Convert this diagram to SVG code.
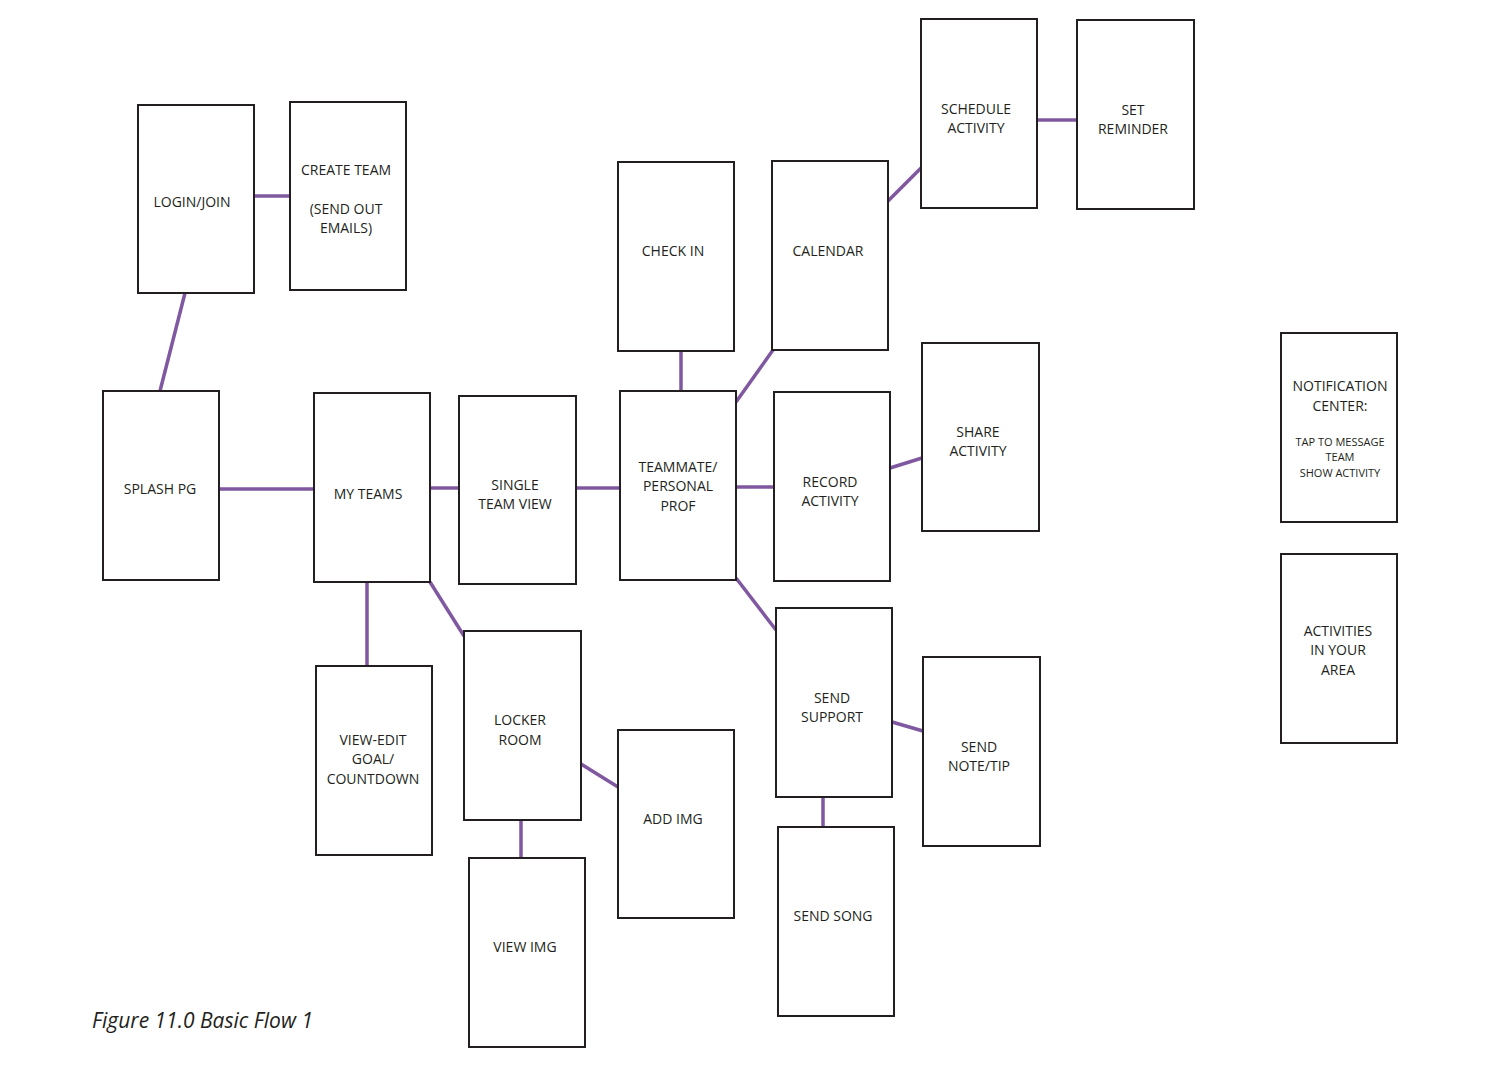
<svg xmlns="http://www.w3.org/2000/svg" width="1498" height="1067" viewBox="0 0 1498 1067">
<style>
.b{fill:#fff;stroke:#231f20;stroke-width:2}
.t{font-family:"Open Sans","Liberation Sans",sans-serif;font-size:14px;fill:#231f20;text-anchor:middle}
.s{font-size:11px}
.c line{stroke:#7f58a0;stroke-width:3.5}
</style>
<rect width="1498" height="1067" fill="#fff"/>
<g class="c" id="connectors">
<line x1="254" y1="196" x2="290" y2="196"/>
<line x1="185" y1="293" x2="160" y2="391"/>
<line x1="219" y1="489" x2="314" y2="489"/>
<line x1="430" y1="488" x2="459" y2="488"/>
<line x1="576" y1="488" x2="620" y2="488"/>
<line x1="681" y1="351" x2="681" y2="391"/>
<line x1="736" y1="402" x2="773" y2="350"/>
<line x1="888" y1="201" x2="921" y2="168"/>
<line x1="1037" y1="120" x2="1077" y2="120"/>
<line x1="736" y1="487" x2="774" y2="487"/>
<line x1="890" y1="468" x2="922" y2="458"/>
<line x1="736" y1="578" x2="776" y2="630"/>
<line x1="892" y1="722" x2="923" y2="731"/>
<line x1="823" y1="797" x2="823" y2="827"/>
<line x1="367" y1="582" x2="367" y2="666"/>
<line x1="430" y1="582" x2="464" y2="636"/>
<line x1="581" y1="764" x2="618" y2="787"/>
<line x1="521" y1="820" x2="521" y2="858"/>
</g>
<g id="login"><rect class="b" x="138" y="105" width="116" height="188"/><text class="t" x="192" y="207">LOGIN/JOIN</text></g>
<g id="create"><rect class="b" x="290" y="102" width="116" height="188"/><text class="t" x="346" y="175">CREATE TEAM</text><text class="t" x="346" y="214">(SEND OUT</text><text class="t" x="346" y="233">EMAILS)</text></g>
<g id="splash"><rect class="b" x="103" y="391" width="116" height="189"/><text class="t" x="160" y="494">SPLASH PG</text></g>
<g id="myteams"><rect class="b" x="314" y="393" width="116" height="189"/><text class="t" x="368" y="499">MY TEAMS</text></g>
<g id="single"><rect class="b" x="459" y="396" width="117" height="188"/><text class="t" x="515" y="490">SINGLE</text><text class="t" x="515" y="509">TEAM VIEW</text></g>
<g id="teammate"><rect class="b" x="620" y="391" width="116" height="189"/><text class="t" x="678" y="472">TEAMMATE/</text><text class="t" x="678" y="491">PERSONAL</text><text class="t" x="678" y="511">PROF</text></g>
<g id="checkin"><rect class="b" x="618" y="162" width="116" height="189"/><text class="t" x="673" y="256">CHECK IN</text></g>
<g id="calendar"><rect class="b" x="772" y="161" width="116" height="189"/><text class="t" x="828" y="256">CALENDAR</text></g>
<g id="schedule"><rect class="b" x="921" y="19" width="116" height="189"/><text class="t" x="976" y="114">SCHEDULE</text><text class="t" x="976" y="133">ACTIVITY</text></g>
<g id="reminder"><rect class="b" x="1077" y="20" width="117" height="189"/><text class="t" x="1133" y="115">SET</text><text class="t" x="1133" y="134">REMINDER</text></g>
<g id="record"><rect class="b" x="774" y="392" width="116" height="189"/><text class="t" x="830" y="487">RECORD</text><text class="t" x="830" y="506">ACTIVITY</text></g>
<g id="share"><rect class="b" x="922" y="343" width="117" height="188"/><text class="t" x="978" y="437">SHARE</text><text class="t" x="978" y="456">ACTIVITY</text></g>
<g id="support"><rect class="b" x="776" y="608" width="116" height="189"/><text class="t" x="832" y="703">SEND</text><text class="t" x="832" y="722">SUPPORT</text></g>
<g id="note"><rect class="b" x="923" y="657" width="117" height="189"/><text class="t" x="979" y="752">SEND</text><text class="t" x="979" y="771">NOTE/TIP</text></g>
<g id="song"><rect class="b" x="778" y="827" width="116" height="189"/><text class="t" x="833" y="921">SEND SONG</text></g>
<g id="viewedit"><rect class="b" x="316" y="666" width="116" height="189"/><text class="t" x="373" y="745">VIEW-EDIT</text><text class="t" x="373" y="764">GOAL/</text><text class="t" x="373" y="784">COUNTDOWN</text></g>
<g id="locker"><rect class="b" x="464" y="631" width="117" height="189"/><text class="t" x="520" y="725">LOCKER</text><text class="t" x="520" y="745">ROOM</text></g>
<g id="addimg"><rect class="b" x="618" y="730" width="116" height="188"/><text class="t" x="673" y="824">ADD IMG</text></g>
<g id="viewimg"><rect class="b" x="469" y="858" width="116" height="189"/><text class="t" x="525" y="952">VIEW IMG</text></g>
<g id="notification"><rect class="b" x="1281" y="333" width="116" height="189"/><text class="t" x="1340" y="391">NOTIFICATION</text><text class="t" x="1340" y="411">CENTER:</text><text class="t s" x="1340" y="446">TAP TO MESSAGE</text><text class="t s" x="1340" y="461">TEAM</text><text class="t s" x="1340" y="477">SHOW ACTIVITY</text></g>
<g id="activities"><rect class="b" x="1281" y="554" width="116" height="189"/><text class="t" x="1338" y="636">ACTIVITIES</text><text class="t" x="1338" y="655">IN YOUR</text><text class="t" x="1338" y="675">AREA</text></g>
<text x="92" y="1028" style="font-family:'Open Sans','Liberation Sans',sans-serif;font-size:21px;font-style:italic;fill:#231f20">Figure 11.0 Basic Flow 1</text>
</svg>
